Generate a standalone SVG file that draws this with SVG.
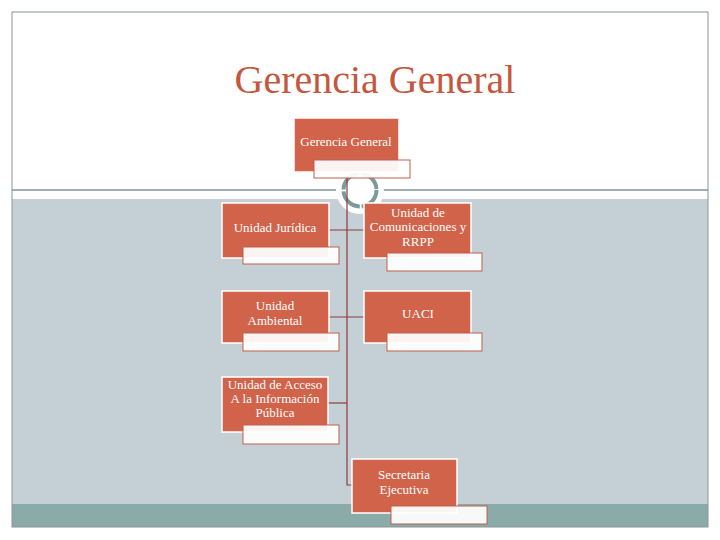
<svg xmlns="http://www.w3.org/2000/svg" width="720" height="540" viewBox="0 0 720 540">
<style>
.box{fill:#d0634a;stroke:#ffffff;stroke-width:1.5}
.sub{fill:#ffffff;fill-opacity:0.93;stroke:#c0614c;stroke-width:1}
.lbl{font-family:"Liberation Serif","DejaVu Serif",serif;font-size:13px;fill:#ffffff;text-anchor:middle}
.con{stroke:#8e3b3b;stroke-width:1.2;fill:none}
</style>
<rect x="0" y="0" width="720" height="540" fill="#ffffff"/>
<rect x="12" y="199" width="696" height="305" fill="#c5d0d6"/>
<rect x="12" y="504" width="696" height="23" fill="#8aabaa"/>
<rect x="12" y="12" width="696" height="515" fill="none" stroke="#8a9696" stroke-width="1"/>
<line x1="12" y1="190" x2="708" y2="190" stroke="#7f9596" stroke-width="1.5"/>
<circle cx="360" cy="190" r="24" fill="#ffffff"/>
<circle cx="360" cy="190" r="16.5" fill="none" stroke="#7a9a9c" stroke-width="4" stroke-dasharray="24 2"/>
<text x="375" y="93" font-family="'Liberation Serif','DejaVu Serif',serif" font-size="40" fill="#c4573e" text-anchor="middle">Gerencia General</text>
<g id="connectors">
<path class="con" d="M347 178 V485 H352"/>
<path class="con" d="M329 230 H364"/>
<path class="con" d="M329 317 H364"/>
<path class="con" d="M328 403 H347"/>
</g>
<g id="gerencia">
<rect class="box" x="294" y="118" width="105" height="54"/>
<rect class="sub" x="314" y="160" width="96" height="18"/>
<text class="lbl" x="346" y="146">Gerencia General</text>
</g>
<g id="juridica">
<rect class="box" x="222" y="203" width="107" height="55"/>
<rect class="sub" x="243" y="247" width="96" height="17"/>
<text class="lbl" x="275" y="232">Unidad Jurídica</text>
</g>
<g id="comunicaciones">
<rect class="box" x="364" y="203" width="107" height="55"/>
<rect class="sub" x="387" y="253" width="95" height="18"/>
<text class="lbl" x="418" y="217">Unidad de</text>
<text class="lbl" x="418" y="231">Comunicaciones y</text>
<text class="lbl" x="418" y="246">RRPP</text>
</g>
<g id="ambiental">
<rect class="box" x="222" y="291" width="107" height="52"/>
<rect class="sub" x="243" y="333" width="96" height="18"/>
<text class="lbl" x="275" y="310">Unidad</text>
<text class="lbl" x="275" y="325">Ambiental</text>
</g>
<g id="uaci">
<rect class="box" x="364" y="291" width="107" height="52"/>
<rect class="sub" x="387" y="333" width="95" height="18"/>
<text class="lbl" x="418" y="318">UACI</text>
</g>
<g id="acceso">
<rect class="box" x="222" y="377" width="106" height="55"/>
<rect class="sub" x="243" y="425" width="96" height="19"/>
<text class="lbl" x="275" y="389">Unidad de Acceso</text>
<text class="lbl" x="275" y="403">A la Información</text>
<text class="lbl" x="275" y="417">Pública</text>
</g>
<g id="secretaria">
<rect class="box" x="352" y="459" width="105" height="54"/>
<rect class="sub" x="391" y="506" width="96" height="18"/>
<text class="lbl" x="404" y="479">Secretaria</text>
<text class="lbl" x="404" y="494">Ejecutiva</text>
</g>
</svg>
